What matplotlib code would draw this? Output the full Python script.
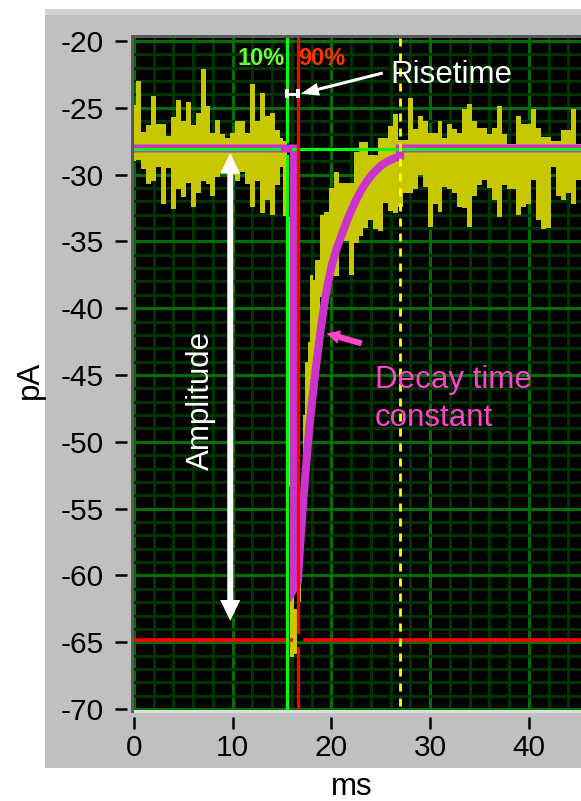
import matplotlib
matplotlib.use("Agg")
import matplotlib.pyplot as plt
from matplotlib.patches import Rectangle, FancyArrowPatch
from matplotlib.ticker import FixedLocator, MultipleLocator

plt.rcParams["font.family"] = ["Liberation Sans", "DejaVu Sans"]
plt.rcParams["axes.unicode_minus"] = False
plt.rcParams["lines.scale_dashes"] = False

# Recorded current: per-sample envelope (upper / lower excursion), ms and pA
trace_t = [0.0, 0.5, 1.0, 1.5, 2.0, 2.5, 3.0, 3.5, 4.0, 4.5, 5.0, 5.5, 6.0, 6.5,
           7.0, 7.5, 8.0, 8.5, 9.0, 9.5, 10.0, 10.5, 11.0, 11.5, 12.0, 12.5, 13.0,
           13.5, 14.0, 14.5, 15.0, 15.25, 15.7, 16.0, 16.35, 16.75, 17.0, 17.25,
           17.5, 17.75, 18.0, 18.25, 18.5, 18.75, 19.0, 19.5, 20.0, 20.5, 21.0,
           21.5, 22.0, 22.5, 23.0, 23.5, 24.0, 24.5, 25.0, 25.5, 26.0, 26.5, 27.0,
           27.5, 28.0, 28.5, 29.0, 29.5, 30.0, 30.5, 31.0, 31.5, 32.0, 32.5, 33.0,
           33.5, 34.0, 34.5, 35.0, 35.5, 36.0, 36.5, 37.0, 37.5, 38.0, 38.5, 39.0,
           39.5, 40.0, 40.5, 41.0, 41.5, 42.0, 42.5, 43.0, 43.5, 44.0, 44.5, 45.0,
           45.5]
trace_hi = [-24.8, -23.0, -26.8, -26.3, -24.1, -26.2, -26.2, -27.1, -25.7, -24.4,
            -26.0, -24.6, -26.3, -25.4, -22.1, -24.9, -26.9, -25.9, -27.0, -27.3,
            -26.9, -26.0, -26.0, -26.9, -23.2, -26.0, -23.9, -25.6, -25.4, -26.7,
            -27.3, -27.5, -33.2, -53.4, -62.5, -57.0, -53.0, -48.0, -44.0, -42.5,
            -37.5, -37.9, -36.4, -36.4, -33.0, -32.8, -31.0, -29.8, -30.6, -30.6,
            -30.6, -28.3, -27.6, -27.6, -28.5, -28.5, -27.3, -27.3, -26.4, -25.5,
            -27.4, -27.4, -24.3, -26.6, -25.6, -26.0, -26.9, -26.9, -26.0, -27.3,
            -26.2, -26.6, -26.9, -25.1, -24.7, -26.0, -26.5, -26.5, -27.0, -26.5,
            -24.9, -27.0, -27.7, -27.7, -25.6, -26.2, -26.2, -25.1, -26.5, -27.2,
            -27.2, -27.5, -27.5, -26.7, -26.7, -25.1, -27.7, -27.0]
trace_lo = [-29.0, -28.9, -29.6, -30.7, -30.5, -29.4, -32.2, -29.5, -32.6, -31.1,
            -31.7, -30.6, -32.4, -31.4, -30.5, -30.7, -31.6, -30.2, -29.9, -29.5,
            -30.0, -30.5, -29.8, -30.7, -32.4, -30.5, -32.9, -31.9, -33.0, -30.8,
            -29.4, -33.1, -53.4, -66.1, -65.9, -62.0, -57.0, -55.0, -52.0, -50.0,
            -47.0, -45.0, -44.0, -42.0, -39.2, -39.0, -37.6, -37.6, -35.0, -35.0,
            -37.5, -35.1, -34.6, -34.0, -33.4, -34.1, -34.2, -32.1, -32.7, -32.9,
            -32.4, -31.4, -31.4, -31.1, -30.0, -30.9, -33.9, -32.2, -32.8, -30.9,
            -31.1, -31.4, -32.4, -32.5, -33.9, -31.6, -30.8, -30.4, -31.0, -31.9,
            -33.2, -30.8, -31.1, -31.1, -33.0, -32.4, -32.2, -30.4, -33.4, -34.1,
            -34.0, -29.4, -31.6, -31.9, -31.4, -32.2, -30.4, -31.0]

# Fitted decay (baseline, onset step, exponential return to baseline)
fit_t = [0.0, 16.2, 16.2, 16.6, 16.9, 17.2, 17.5, 17.75, 18.1, 18.45, 18.95, 19.5,
         20.0, 20.5, 21.0, 21.5, 22.0, 22.5, 23.0, 23.5, 24.0, 24.5, 25.0, 25.5,
         26.0, 26.5, 26.95, 26.95, 45.5]
fit_pA = [-28.05, -28.05, -61.0, -60.5, -57.0, -54.0, -51.2, -49.0, -46.6, -44.3,
          -41.4, -38.7, -36.9, -35.6, -34.6, -33.6, -32.7, -31.9, -31.2, -30.6,
          -30.1, -29.7, -29.35, -29.1, -28.9, -28.75, -28.65, -28.05, -28.05]

# Cursor positions
baseline_pA = -28.05
peak_pA = -64.8
t10 = 15.5
t90 = 16.6
t_fit_end = 26.95

x_ticks = [0, 10, 20, 30, 40]
y_ticks = [-70, -65, -60, -55, -50, -45, -40, -35, -30, -25, -20]

W, H = 581, 801
fig = plt.figure(figsize=(W / 100, H / 100), dpi=100)
fig.patch.set_facecolor("white")

# grey instrument panel behind the graph
fig.patches.append(Rectangle((45 / W, 1 - 768 / H), 1 - 45 / W, (768 - 15) / H,
                             transform=fig.transFigure, facecolor="#c0c0c0",
                             edgecolor="none", zorder=-2))
fig.patches.append(Rectangle((45 / W, 1 - 15 / H), 1 - 45 / W, 6 / H,
                             transform=fig.transFigure, facecolor="#d4d4d4",
                             edgecolor="none", zorder=-2))

ax = fig.add_axes([134 / W, 1 - 710 / H, (W - 134) / W, (710 - 38) / H])
ax.set_zorder(1)
ax.set_facecolor("black")
ax.set_xlim(0, (W - 134) / 9.87)
ax.set_ylim(-70.07, -19.78)

# bevelled frame of the plot area
fig.patches.append(Rectangle((131 / W, 1 - 713 / H), 3 / W, (713 - 35) / H,
                             transform=fig.transFigure, facecolor="#5a5a5a",
                             edgecolor="none", zorder=2))
fig.patches.append(Rectangle((131 / W, 1 - 38 / H), 1 - 131 / W, 3 / H,
                             transform=fig.transFigure, facecolor="#5a5a5a",
                             edgecolor="none", zorder=2))
fig.patches.append(Rectangle((134 / W, 1 - 713 / H), 1 - 134 / W, 3 / H,
                             transform=fig.transFigure, facecolor="#dcdcdc",
                             edgecolor="none", zorder=2))

# grid
ax.xaxis.set_major_locator(FixedLocator(x_ticks))
ax.xaxis.set_minor_locator(MultipleLocator(2))
ax.yaxis.set_major_locator(FixedLocator(y_ticks))
ax.yaxis.set_minor_locator(MultipleLocator(1))
ax.set_axisbelow(True)
ax.grid(which="minor", color="#003300", lw=2.2)
ax.grid(which="major", color="#006e00", lw=2.2)

for s in ax.spines.values():
    s.set_visible(False)
ax.spines["left"].set_position(("outward", 5.0))
ax.spines["bottom"].set_position(("outward", 5.0))
ax.tick_params(which="minor", length=0)
ax.tick_params(which="major", direction="out", length=8.6, width=1.8,
               color="black", labelsize=21.5, labelcolor="black")
ax.tick_params(axis="y", pad=8.0)
ax.tick_params(axis="x", pad=3.6)
ax.set_xticklabels([str(v) for v in x_ticks])
ax.set_yticklabels([str(v) for v in y_ticks])

fig.text(30 / W, 1 - 380 / H, "pA", rotation=90, ha="center", va="center",
         fontsize=22.5, color="black")
fig.text(352 / W, 1 - 787 / H, "ms", ha="center", va="center",
         fontsize=22.5, color="black")

# current trace
ax.fill_between(trace_t, trace_lo, trace_hi, step="mid", color="#c8c800",
                lw=0, zorder=2)

# fitted curve
ax.plot(fit_t, fit_pA, color="#cc33cc", lw=5.8, solid_joinstyle="miter",
        solid_capstyle="butt", zorder=3)

xmax = ax.get_xlim()[1]
# baseline and peak cursors
ax.plot([0, 14.7], [baseline_pA] * 2, color="#00ff00", lw=2.2, zorder=4)
ax.plot([16.1, xmax], [baseline_pA] * 2, color="#00ff00", lw=2.2, zorder=4)
ax.plot([0, 15.9], [peak_pA] * 2, color="#ff0000", lw=2.6, zorder=4)
ax.plot([17.3, xmax], [peak_pA] * 2, color="#ff0000", lw=2.6, zorder=4)
# 10 % and 90 % time cursors
ax.plot([t10, t10], [-19.78, -27.5], color="#00ff00", lw=2.3, zorder=4)
ax.plot([t10, t10], [-28.6, -70.07], color="#00ff00", lw=2.3, zorder=4)
ax.plot([t90, t90], [-19.78, -64.2], color="#ff0000", lw=2.3, zorder=4)
ax.plot([t90, t90], [-65.4, -70.07], color="#ff0000", lw=2.3, zorder=4)
# end of fit window
ax.plot([t_fit_end, t_fit_end], [-19.78, -70.07], color="#ffff00", lw=2.0,
        dashes=(5.8, 5.0), zorder=4)

# rise-time bracket
ax.plot([t10, t90], [-23.95, -23.95], color="white", lw=2.2, zorder=6,
        solid_capstyle="butt")
for tx in (t10, t90):
    ax.plot([tx, tx], [-23.6, -24.3], color="white", lw=2.9, zorder=6,
            solid_capstyle="butt")

ax.text(15.3, -21.8, "10%", color="#66ff33", fontsize=17, fontweight="bold",
        ha="right", va="baseline", zorder=6)
ax.text(16.65, -21.8, "90%", color="#ff3300", fontsize=17, fontweight="bold",
        ha="left", va="baseline", zorder=6)

# Risetime label and arrow
ax.text(25.94, -23.14, "Risetime", color="white", fontsize=22.5,
        ha="left", va="baseline", zorder=6)
ax.add_patch(FancyArrowPatch((25.2, -22.4), (16.9, -23.95),
                             arrowstyle="simple,head_length=13,head_width=9.4,tail_width=2.2",
                             mutation_scale=1, color="white", lw=0,
                             shrinkA=0, shrinkB=0, zorder=6))

# amplitude double arrow
mid = (-28.38 + -63.4) / 2
for end in (-28.38, -63.4):
    ax.add_patch(FancyArrowPatch((9.75, mid), (9.75, end),
                                 arrowstyle="simple,head_length=15,head_width=14.4,tail_width=4.3",
                                 mutation_scale=1, color="white", lw=0,
                                 shrinkA=0, shrinkB=0, zorder=6))
ax.text(6.79, -46.87, "Amplitude", color="white", fontsize=22.5, rotation=90,
        ha="center", va="center", zorder=6)

# decay time constant label and arrow
ax.add_patch(FancyArrowPatch((23.07, -42.64), (19.52, -41.89),
                             arrowstyle="simple,head_length=9.4,head_width=10,tail_width=4.3",
                             mutation_scale=1, color="#ff44cc", lw=0,
                             shrinkA=0, shrinkB=0, zorder=6))
ax.text(24.42, -45.97, "Decay time", color="#ff44cc", fontsize=22.5,
        ha="left", va="baseline", zorder=6)
ax.text(24.42, -48.82, "constant", color="#ff44cc", fontsize=22.5,
        ha="left", va="baseline", zorder=6)

fig.savefig("out.png", dpi=100, facecolor="white")
